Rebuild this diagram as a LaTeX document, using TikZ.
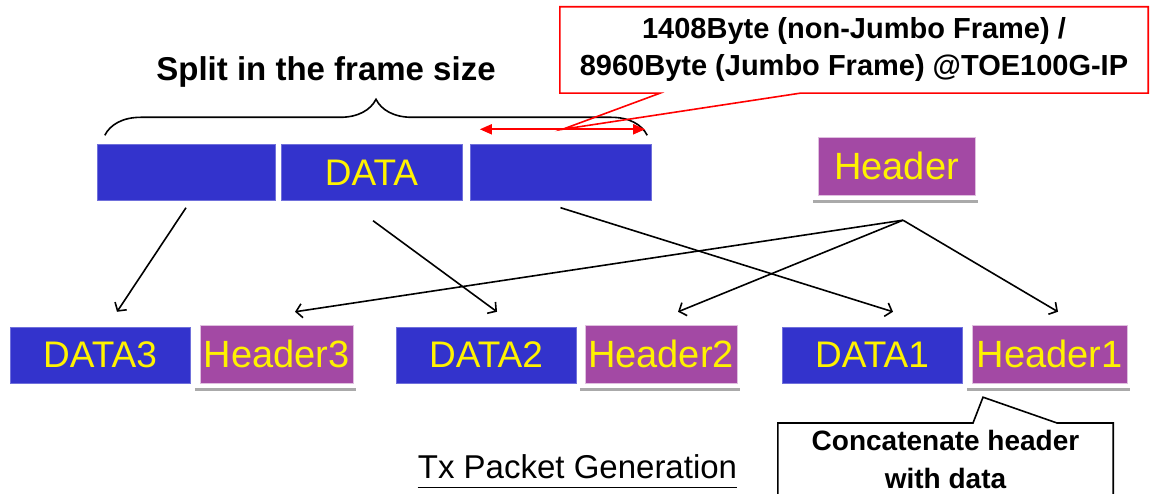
\documentclass[tikz,border=0pt]{standalone}
\usepackage{fontspec}
\setmainfont{Liberation Sans}
\usetikzlibrary{arrows.meta, positioning, calc, decorations.pathreplacing}
\definecolor{datablue}{RGB}{51,51,204}
\definecolor{hdrpurple}{RGB}{163,73,164}
\definecolor{shadowgray}{RGB}{170,170,170}
\tikzset{
    blk/.style={draw=datablue!70!white, fill=datablue, text=yellow, minimum height=56pt, inner sep=0pt, font=\fontsize{37}{42}\selectfont},
    hdrbox/.style={blk, draw=violet!25!white, fill=hdrpurple, minimum height=58pt, font=\fontsize{38}{42}\selectfont},
    shadowln/.style={line width=3pt, draw=shadowgray},
    link/.style={-{Straight Barb[length=6pt,width=14pt]}, line width=1.6pt},
    sizearr/.style={{Triangle[length=12pt,width=10pt]}-{Triangle[length=12pt,width=10pt]}, red, line width=1.8pt},
    note/.style={inner sep=0pt, align=center, font=\bfseries\fontsize{29}{37}\selectfont}
}

\begin{document}
\begin{tikzpicture}[x=1pt, y=-1pt]
  \useasboundingbox (0,0) rectangle (1150,494);

  % payload split into frames
  \node (blkA) [blk, minimum width=178pt] at (186,172.5) {};
  \node (blkB) [blk, minimum width=181pt] at (371.5,172.5) {DATA};
  \node (blkC) [blk, minimum width=181pt] at (560.5,172.5) {};
  \node (hdr) [hdrbox, minimum width=157pt] at (896.5,166) {Header};

  % generated packets
  \node (data3) [blk, minimum width=180pt] at (100,355) {DATA3};
  \node (hdr3) [hdrbox, minimum width=153pt] at (276.5,354) {Header3};
  \node (data2) [blk, minimum width=180pt] at (486,355) {DATA2};
  \node (hdr2) [hdrbox, minimum width=152pt] at (661,354) {Header2};
  \node (data1) [blk, minimum width=180pt] at (872,355) {DATA1};
  \node (hdr1) [hdrbox, minimum width=155pt] at (1049.5,354) {Header1};

  \foreach \h in {hdr, hdr3, hdr2, hdr1}
    \draw[shadowln] ([xshift=-5pt,yshift=-6pt]\h.south west) -- ([xshift=3pt,yshift=-6pt]\h.south east);

  % frame size brace
  \draw[line width=1.6pt, decorate, decoration={brace, amplitude=36pt}]
    ([xshift=8pt,yshift=9pt]blkA.north west) -- ([xshift=-4pt,yshift=9pt]blkC.north east);
  \node (splitlbl) [font=\bfseries\fontsize{33}{38}\selectfont] at (326,72) {Split in the frame size};

  \draw[sizearr] ([xshift=10pt,yshift=15pt]blkC.north west) coordinate (szL)
    -- ([xshift=-6pt,yshift=15pt]blkC.north east) coordinate (szR);
  \coordinate (sztip) at ($(szL)!0.5!(szR)$);

  \node (sizenote) [note, minimum width=588pt, minimum height=86pt] at (854,50)
    {1408Byte (non-Jumbo Frame) /\\8960Byte (Jumbo Frame) @TOE100G-IP};
  \draw[red, line width=1.6pt] (sztip) -- ([xshift=-194pt]sizenote.south) -- (sizenote.south west)
    -- (sizenote.north west) -- (sizenote.north east) -- (sizenote.south east)
    -- ([xshift=-54pt]sizenote.south) -- cycle;

  % data and header moves
  \draw[link] ([yshift=-7pt]blkA.south) -- ([xshift=17pt,yshift=15pt]data3.north);
  \draw[link] ([xshift=1.5pt,yshift=-20pt]blkB.south) -- ([xshift=11pt,yshift=15pt]data2.north);
  \draw[link] ([yshift=-7pt]blkC.south) -- ([xshift=21pt,yshift=15pt]data1.north);
  \coordinate (fork) at ([xshift=6.5pt,yshift=-25pt]hdr.south);
  \foreach \t/\dx in {hdr3/18.5, hdr2/17, hdr1/8.5}
    \draw[link] (fork) -- ([xshift=\dx pt,yshift=13pt]\t.north);

  % concatenation note
  \node (catnote) [note, font=\bfseries\fontsize{28}{38}\selectfont, minimum width=335pt, minimum height=72pt, anchor=north] at (945.5,423)
    {Concatenate header\\with data};
  \draw[line width=1.6pt] (catnote.south west) -- (catnote.north west) -- ([xshift=27.5pt]catnote.north)
    -- ([xshift=-66.5pt,yshift=-14pt]hdr1.south) -- ([xshift=111.5pt]catnote.north)
    -- (catnote.north east) -- (catnote.south east);

  \node (title) [inner sep=0pt, font=\fontsize{33}{40}\selectfont] at (577.5,467) {Tx Packet Generation};
  \draw[line width=1.3pt] ([yshift=-9pt]title.base west) -- ([yshift=-9pt]title.base east);
\end{tikzpicture}
\end{document}
